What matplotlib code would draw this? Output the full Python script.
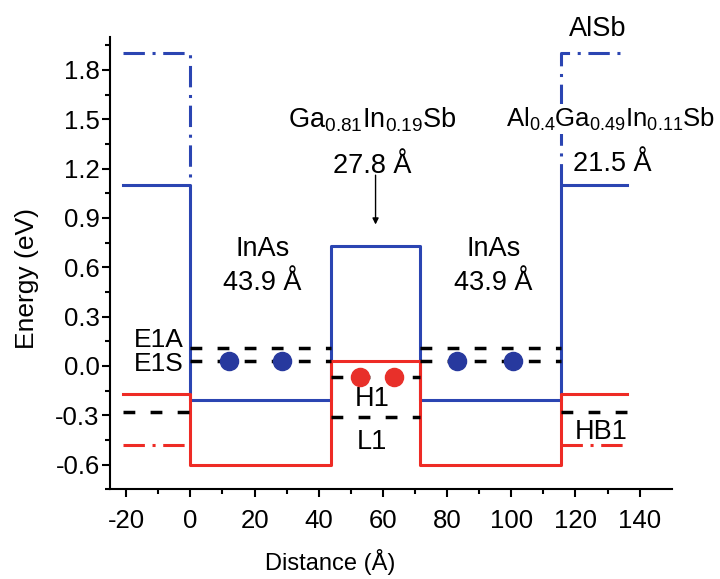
import matplotlib
matplotlib.use("Agg")
import matplotlib.pyplot as plt
import numpy as np

plt.rcParams['font.family'] = ['Liberation Sans', 'DejaVu Sans']
plt.rcParams['mathtext.fontset'] = 'custom'
plt.rcParams['mathtext.rm'] = 'Liberation Sans'
plt.rcParams['mathtext.it'] = 'Liberation Sans'
plt.rcParams['mathtext.default'] = 'regular'
plt.rcParams['axes.unicode_minus'] = False

# ---- data ----
x_edges = [-21, 0, 43.9, 71.7, 115.6, 136]          # layer boundaries (Å)
cb = [1.10, -0.21, 0.73, -0.21, 1.10]               # conduction band (eV)
vb = [-0.17, -0.60, 0.03, -0.60, -0.17]             # valence band (eV)
alsb_cb = 1.90                                      # AlSb conduction band
alsb_vb = -0.48                                     # AlSb valence band
well_ranges = [(0, 43.9), (71.7, 115.6)]
barrier_range = (43.9, 71.7)
outer_ranges = [(-21, 0), (115.6, 136)]
E1A = 0.11
E1S = 0.03
H1 = -0.07
L1 = -0.31
HB1 = -0.28
electron_x = [12, 28.5, 83, 100.5]
hole_x = [52.7, 63.5]
xticks = [-20, 0, 20, 40, 60, 80, 100, 120, 140]
yticks = [-0.6, -0.3, 0.0, 0.3, 0.6, 0.9, 1.2, 1.5, 1.8]

blue = '#2b45b2'
red = '#ee2b25'

fig = plt.figure(figsize=(7.2, 5.79), dpi=100)
ax = fig.add_axes([0.153, 0.155, 0.78, 0.781])

# AlSb dash-dot
dd = (7, 2.5, 1, 2.5)
ax.plot([outer_ranges[0][0], outer_ranges[0][1], outer_ranges[0][1]],
        [alsb_cb, alsb_cb, cb[0]], color=blue, lw=2.2, dashes=dd)
ax.plot([outer_ranges[1][0], outer_ranges[1][0], outer_ranges[1][1]],
        [cb[-1], alsb_cb, alsb_cb], color=blue, lw=2.2, dashes=dd)
ax.plot(outer_ranges[0], [alsb_vb] * 2, color=red, lw=2.2, dashes=dd)
ax.plot(outer_ranges[1], [alsb_vb] * 2, color=red, lw=2.2, dashes=dd)

# band edges
ax.step(x_edges, cb + [cb[-1]], where='post', color=blue, lw=2.2)
ax.step(x_edges, vb + [vb[-1]], where='post', color=red, lw=2.2)

# confined levels
dash = (3.4, 4.4)
for a, b in well_ranges:
    ax.plot([a, b], [E1A] * 2, color='k', lw=2.5, dashes=dash)
    ax.plot([a, b], [E1S] * 2, color='k', lw=2.5, dashes=dash)
ax.plot(barrier_range, [H1] * 2, color='k', lw=2.5, dashes=dash)
ax.plot(barrier_range, [L1] * 2, color='k', lw=2.5, dashes=dash)
for a, b in outer_ranges:
    ax.plot([a, b], [HB1] * 2, color='k', lw=2.5, dashes=dash)

# carriers
ax.scatter(electron_x, [E1S] * len(electron_x), s=170, color='#27399e', zorder=5)
ax.scatter(hole_x, [H1] * len(hole_x), s=170, color='#e8302a', zorder=5)

fs = 19.5
ax.text(-2, 0.16, 'E1A', fontsize=19, ha='right', va='center')
ax.text(-2, 0.01, 'E1S', fontsize=19, ha='right', va='center')
for xc in [22.5, 94.5]:
    ax.text(xc, 0.712, 'InAs', fontsize=fs, ha='center', va='center')
    ax.text(xc, 0.505, '43.9 Å', fontsize=fs, ha='center', va='center')
ax.text(56.7, 1.50, r'Ga$_{0.81}$In$_{0.19}$Sb', fontsize=fs, ha='center', va='center')
ax.text(56.5, 1.215, '27.8 Å', fontsize=fs, ha='center', va='center')
ax.annotate('', xy=(57.7, 0.86), xytext=(57.7, 1.16),
            arrowprops=dict(arrowstyle='-|>', lw=1.0, color='k', mutation_scale=9, shrinkA=0, shrinkB=0))
ax.text(130.8, 1.50, r'Al$_{0.4}$Ga$_{0.49}$In$_{0.11}$Sb', fontsize=18.5, ha='center', va='center',
        bbox=dict(facecolor='white', edgecolor='none', pad=1.0), zorder=6, clip_on=False)
ax.text(131.5, 1.23, '21.5 Å', fontsize=fs, ha='center', va='center',
        bbox=dict(facecolor='white', edgecolor='none', pad=1.0), zorder=6)
ax.text(127, 2.05, 'AlSb', fontsize=fs, ha='center', va='center', clip_on=False)
ax.text(56.7, -0.20, 'H1', fontsize=fs, ha='center', va='center')
ax.text(56.7, -0.46, 'L1', fontsize=fs, ha='center', va='center')
ax.text(128, -0.40, 'HB1', fontsize=fs, ha='center', va='center')

ax.set_xlim(-25, 150)
ax.set_ylim(-0.75, 2.0)
ax.set_xticks(xticks)
ax.set_xticks(np.arange(-20, 141, 10), minor=True)
ax.set_yticks(yticks)
ax.set_yticks(np.arange(-0.75, 1.96, 0.15), minor=True)
ax.set_yticklabels([f'{v:.1f}' for v in yticks])
ax.tick_params(which='major', direction='out', length=6, width=1.5, labelsize=18.5)
ax.tick_params(axis='x', which='major', pad=8)
ax.tick_params(axis='y', which='major', pad=1.5)
ax.tick_params(which='minor', direction='out', length=3.5, width=1.5)
for s in ['top', 'right']:
    ax.spines[s].set_visible(False)
for s in ['left', 'bottom']:
    ax.spines[s].set_linewidth(1.5)
ax.set_xlabel('Distance (Å)', fontsize=17)
ax.xaxis.set_label_coords(0.392, -0.133)
ax.set_ylabel('Energy (eV)', fontsize=19)
ax.yaxis.set_label_coords(-0.127, 0.467)

fig.savefig('out.png', dpi=100)
